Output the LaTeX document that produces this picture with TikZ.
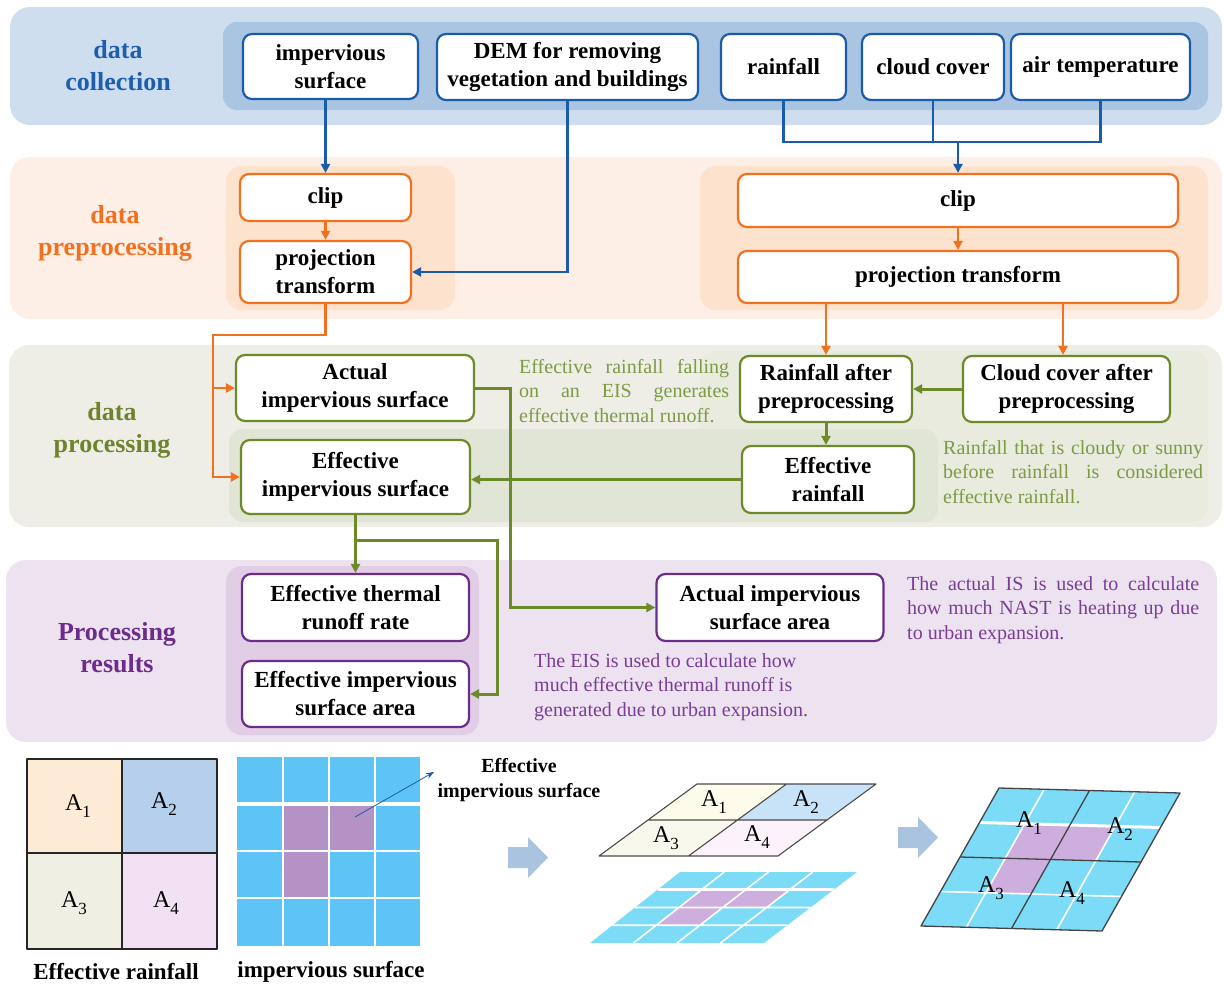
\documentclass[tikz,border=0pt]{standalone}
\usepackage{fontspec}
\setmainfont{Liberation Serif}
\usetikzlibrary{arrows.meta,calc}
\definecolor{cBlue}{HTML}{1A5CAB}
\definecolor{cBlueLab}{HTML}{1D5EAE}
\definecolor{cOrange}{HTML}{F2711F}
\definecolor{cGreen}{HTML}{6C8A2A}
\definecolor{cGreenLab}{HTML}{6F822E}
\definecolor{cGreenTxt}{HTML}{7D9A45}
\definecolor{cPurple}{HTML}{6B2C8B}
\definecolor{cPurpleTxt}{HTML}{7A3D95}
\definecolor{bandB}{HTML}{CFDEEE}
\definecolor{bandBi}{HTML}{AAC5E1}
\definecolor{bandO}{HTML}{FDEEE6}
\definecolor{bandOi}{HTML}{FDE3CE}
\definecolor{bandG}{HTML}{EEEEE7}
\definecolor{bandGr}{HTML}{E8EBDD}
\definecolor{bandGi}{HTML}{E1E5D6}
\definecolor{bandP}{HTML}{ECE2F0}
\definecolor{bandPi}{HTML}{E1CDE5}
\definecolor{qA1}{HTML}{FDEBD5}
\definecolor{qA2}{HTML}{B5CFEC}
\definecolor{qA3}{HTML}{EFF0E3}
\definecolor{qA4}{HTML}{F2E0F3}
\definecolor{pA1}{HTML}{FDFBEA}
\definecolor{pA2}{HTML}{C8E3F8}
\definecolor{pA3}{HTML}{F8F8EC}
\definecolor{pA4}{HTML}{FCF2FC}
\definecolor{cellB}{HTML}{5EC4F5}
\definecolor{cellP}{HTML}{B592C6}
\definecolor{cellBb}{HTML}{7CDBF7}
\definecolor{cellPb}{HTML}{CEAEDF}
\definecolor{bArrow}{HTML}{AAC4E0}
\definecolor{edgeGray}{HTML}{444444}
\newcommand\Asub[1]{A\raisebox{-0.32em}{\fontsize{17}{17}\selectfont #1}}
\begin{document}
\begin{tikzpicture}[x=1pt,y=-1pt,
  flowbox/.style={draw, line width=2.2pt, rounded corners=9pt, fill=white, align=center, inner sep=0pt, text=black, font=\fontsize{23}{28}\selectfont\bfseries},
  bbox/.style={flowbox, draw=cBlue},
  obox/.style={flowbox, draw=cOrange},
  gbox/.style={flowbox, draw=cGreen},
  pbox/.style={flowbox, draw=cPurple},
  lab/.style={align=center, inner sep=0pt, font=\fontsize{26}{32}\selectfont\bfseries},
  anno/.style={inner sep=0pt, anchor=north west, font=\fontsize{20}{24.5}\selectfont, align=justify},
  arr/.style={-{Triangle[length=9pt,width=9pt]}},
  bl/.style={draw=cBlue, line width=2.8pt},
  orl/.style={draw=cOrange, line width=2.3pt},
  grl/.style={draw=cGreen, line width=3pt},
  alab/.style={inner sep=0pt, font=\fontsize{24}{24}\selectfont},
  blab/.style={inner sep=0pt, align=center, font=\fontsize{23}{28}\selectfont\bfseries},
  wl/.style={draw=white, line width=1.8pt},
  kl/.style={draw=edgeGray, line width=1.3pt, line join=round}
]
\useasboundingbox (0,0) rectangle (1224,985);

% ---------------- bands
\fill[bandB, rounded corners=20pt] (10,7) rectangle (1222,125);
\fill[bandBi, rounded corners=14pt] (223,22) rectangle (1208,110);
\fill[bandO, rounded corners=20pt] (10,157) rectangle (1222,319);
\fill[bandOi, rounded corners=16pt] (226,166) rectangle (455,310);
\fill[bandOi, rounded corners=16pt] (700,166) rectangle (1208,310);
\fill[bandG, rounded corners=20pt] (9,345) rectangle (1222,527);
\fill[bandGr, rounded corners=16pt] (700,351) rectangle (1208,522);
\fill[bandGi, rounded corners=14pt] (229,429) rectangle (938,522);
\fill[bandP, rounded corners=20pt] (6,560) rectangle (1217,742);
\fill[bandPi, rounded corners=16pt] (226,566) rectangle (479,735);

% ---------------- labels
\node[lab, text=cBlueLab] (l1) at (118,66) {data\\collection};
\node[lab, text=cOrange] (l2) at (115,233) {data\\preprocessing};
\node[lab, text=cGreenLab] (l3) at (112,430) {data\\processing};
\node[lab, text=cPurple] (l4) at (117,648) {Processing\\results};

% ---------------- boxes
\node[bbox, minimum width=175pt, minimum height=65pt] (imp) at (330.5,66.5) {impervious\\surface};
\node[bbox, minimum width=261pt, minimum height=66pt] (dem) at (567.5,67) {DEM for removing\\vegetation and buildings};
\node[bbox, minimum width=125pt, minimum height=66pt] (rain) at (783.5,67) {rainfall};
\node[bbox, minimum width=142pt, minimum height=66pt] (cloud) at (933,67) {cloud cover};
\node[bbox, minimum width=179pt, minimum height=66pt] (air) at (1100.5,67) {air temperature};

\node[obox, minimum width=171pt, minimum height=47pt] (clipL) at (325.5,197.5) {clip};
\node[obox, minimum width=171pt, minimum height=62pt] (projL) at (325.5,272) {projection\\transform};
\node[obox, minimum width=440pt, minimum height=53pt] (clipR) at (958,200.5) {clip};
\node[obox, minimum width=440pt, minimum height=52pt] (projR) at (958,277) {projection transform};

\node[gbox, minimum width=238pt, minimum height=66pt] (actual) at (355,388) {Actual\\impervious surface};
\node[gbox, minimum width=229pt, minimum height=74pt] (effIS) at (355.5,477) {Effective\\impervious surface};
\node[gbox, minimum width=172pt, minimum height=66pt] (rainA) at (826,389) {Rainfall after\\preprocessing};
\node[gbox, minimum width=207pt, minimum height=66pt] (cloudA) at (1066.5,389) {Cloud cover after\\preprocessing};
\node[gbox, minimum width=172pt, minimum height=67pt] (effR) at (828,479.5) {Effective\\rainfall};

\node[pbox, minimum width=227pt, minimum height=67pt] (etr) at (355.5,607.5) {Effective thermal\\runoff rate};
\node[pbox, minimum width=227pt, minimum height=66pt] (eisa) at (355.5,694) {Effective impervious\\surface area};
\node[pbox, minimum width=227pt, minimum height=67pt] (aisa) at (770,607.5) {Actual impervious\\surface area};

% ---------------- connectors
\coordinate (j) at (958,142);
\draw[bl, arr] (clipL.north |- imp.south) -- (clipL.north);
\draw[bl, arr] (dem.south) |- (projL.east);
\draw[bl] (rain.south) -- (rain.south |- j) -- (air.south |- j) -- (air.south);
\draw[bl] (cloud.south) -- (cloud.south |- j);
\draw[bl, arr] (j) -- (clipR.north);

\coordinate (o1) at (213,335);
\draw[orl, arr] (clipL) -- (projL);
\draw[orl, arr] (clipR) -- (projR);
\draw[orl, arr] (projL.south) |- (o1) |- (effIS.west);
\draw[orl, arr] (o1 |- actual.west) -- (actual.west);
\draw[orl, arr] (projR.south -| rainA.north) -- (rainA.north);
\coordinate (o2) at (1063,303);
\draw[orl, arr] (o2) -- (o2 |- cloudA.north);

\coordinate (g1) at (510,388);
\coordinate (g2) at (497,540);
\draw[grl, arr] (cloudA.west) -- (rainA.east);
\draw[grl, arr] (rainA.south) -- (rainA.south |- effR.north);
\draw[grl, arr] (effR.west) -- (effIS.east |- effR.west);
\draw[grl, arr] (actual.east) -- (g1) |- (aisa.west);
\draw[grl, arr] (effIS.south) -- (etr.north);
\draw[grl, arr] (effIS.south |- g2) -- (g2) |- (eisa.east);

% ---------------- annotations
\node[anno, text=cGreenTxt, text width=210pt] (n1) at (519,359) {Effective rainfall falling\linebreak on an EIS generates\linebreak effective thermal runoff.};
\node[anno, text=cGreenTxt, text width=260pt] (n2) at (943,440) {Rainfall that is cloudy or sunny\linebreak before rainfall is considered\linebreak effective rainfall.};
\node[anno, text=cPurpleTxt, text width=292pt] (n3) at (907,576) {The actual IS is used to calculate\linebreak how much NAST is heating up due\linebreak to urban expansion.};
\node[anno, text=cPurpleTxt, align=left] (n4) at (534,653) {The EIS is used to calculate how\\much effective thermal runoff is\\generated due to urban expansion.};

% ---------------- bottom: effective rainfall grid
\fill[qA1] (27,759) rectangle (122,853);
\fill[qA2] (122,759) rectangle (217,853);
\fill[qA3] (27,853) rectangle (122,949);
\fill[qA4] (122,853) rectangle (217,949);
\draw[kl, draw=black!85] (27,759) rectangle (217,949) (122,759) -- (122,949) (27,853) -- (217,853);
\node[alab] (g1a) at (78,806) {\Asub{1}};
\node[alab] (g1b) at (164,804) {\Asub{2}};
\node[alab] (g1c) at (74,903) {\Asub{3}};
\node[alab] (g1d) at (166,903) {\Asub{4}};
\node[blab] (t1) at (116,972) {Effective rainfall};

% ---------------- impervious surface grid
\fill[cellB] (237,757) rectangle (420,946);
\fill[cellP] (283,804) rectangle (375,851);
\fill[cellP] (283,851) rectangle (329,898);
\draw[wl] (283,757) -- (283,946) (329,757) -- (329,946) (375,757) -- (375,946)
          (237,851) -- (420,851) (237,898) -- (420,898);
\draw[wl, line width=3.5pt] (237,804) -- (420,804);
\node[blab] (t2) at (331,972) {impervious surface};
\node[inner sep=0pt, align=center, font=\fontsize{20}{25}\selectfont\bfseries] (eist) at (519,780) {Effective\\impervious surface};
\coordinate (ea1) at (355,817);
\coordinate (ea2) at (434,772);
\draw[cBlue, line width=0.8pt, -{Stealth[length=8pt,width=6pt]}] (ea1) -- (ea2);

% ---------------- block arrows
\fill[bArrow] (508,847) -- (528,847) -- (528,837) -- (548,857.5) -- (528,878) -- (528,868) -- (508,868) -- cycle;
\fill[bArrow] (898,827) -- (918,827) -- (918,817) -- (938,837.5) -- (918,858) -- (918,848) -- (898,848) -- cycle;

% ---------------- parallelogram 1 (rainfall zones)
\coordinate (aBL) at (599,856); \coordinate (aBR) at (778,856);
\coordinate (aTL) at (697,784); \coordinate (aTR) at (876,784);
\coordinate (aBM) at ($(aBL)!0.5!(aBR)$); \coordinate (aTM) at ($(aTL)!0.5!(aTR)$);
\coordinate (aLM) at ($(aBL)!0.5!(aTL)$); \coordinate (aRM) at ($(aBR)!0.5!(aTR)$);
\coordinate (aC) at ($(aBM)!0.5!(aTM)$);
\fill[pA3] (aBL) -- (aBM) -- (aC) -- (aLM) -- cycle;
\fill[pA4] (aBM) -- (aBR) -- (aRM) -- (aC) -- cycle;
\fill[pA1] (aLM) -- (aC) -- (aTM) -- (aTL) -- cycle;
\fill[pA2] (aC) -- (aRM) -- (aTR) -- (aTM) -- cycle;
\draw[kl, line width=1.1pt, draw=black!70] (aBL) -- (aBR) -- (aTR) -- (aTL) -- cycle (aBM) -- (aTM) (aLM) -- (aRM);
\node[alab] (p1a) at (714,802) {\Asub{1}};
\node[alab] (p1b) at (806,802) {\Asub{2}};
\node[alab] (p1c) at (666,838) {\Asub{3}};
\node[alab] (p1d) at (757,837) {\Asub{4}};

% ---------------- parallelogram 2 (impervious grid, tilted)
\coordinate (bBL) at (590,943); \coordinate (bBR) at (764,943);
\coordinate (bTL) at (680,872); \coordinate (bTR) at (857,872);
\foreach \k in {0,...,4} {
  \coordinate (bL\k) at ($(bBL)!\k/4!(bTL)$);
  \coordinate (bR\k) at ($(bBR)!\k/4!(bTR)$);
  \coordinate (bB\k) at ($(bBL)!\k/4!(bBR)$);
  \coordinate (bT\k) at ($(bTL)!\k/4!(bTR)$);
}
\fill[cellBb] (bBL) -- (bBR) -- (bTR) -- (bTL) -- cycle;
\fill[cellPb] ($(bL2)!0.25!(bR2)$) -- ($(bL2)!0.75!(bR2)$) -- ($(bL3)!0.75!(bR3)$) -- ($(bL3)!0.25!(bR3)$) -- cycle;
\fill[cellPb] ($(bL1)!0.25!(bR1)$) -- ($(bL1)!0.5!(bR1)$) -- ($(bL2)!0.5!(bR2)$) -- ($(bL2)!0.25!(bR2)$) -- cycle;
\draw[wl, line width=1.6pt] (bL1) -- (bR1) (bL2) -- (bR2) (bB1) -- (bT1) (bB2) -- (bT2) (bB3) -- (bT3);
\draw[wl, line width=2.6pt] (bL3) -- (bR3);

% ---------------- parallelogram 3 (overlay)
\coordinate (cBL) at (921,926); \coordinate (cBR) at (1102,931);
\coordinate (cTL) at (999,788); \coordinate (cTR) at (1180,793);
\foreach \k in {0,...,4} {
  \coordinate (cL\k) at ($(cBL)!\k/4!(cTL)$);
  \coordinate (cR\k) at ($(cBR)!\k/4!(cTR)$);
  \coordinate (cB\k) at ($(cBL)!\k/4!(cBR)$);
  \coordinate (cT\k) at ($(cTL)!\k/4!(cTR)$);
}
\fill[cellBb] (cBL) -- (cBR) -- (cTR) -- (cTL) -- cycle;
\fill[cellPb] ($(cL2)!0.25!(cR2)$) -- ($(cL2)!0.75!(cR2)$) -- ($(cL3)!0.75!(cR3)$) -- ($(cL3)!0.25!(cR3)$) -- cycle;
\fill[cellPb] ($(cL1)!0.25!(cR1)$) -- ($(cL1)!0.5!(cR1)$) -- ($(cL2)!0.5!(cR2)$) -- ($(cL2)!0.25!(cR2)$) -- cycle;
\draw[wl, line width=1.6pt] (cL1) -- (cR1) (cB1) -- (cT1) (cB3) -- (cT3);
\draw[wl, line width=3pt] (cL3) -- (cR3);
\draw[kl] (cBL) -- (cBR) -- (cTR) -- (cTL) -- cycle (cB2) -- (cT2) (cL2) -- (cR2);
\node[alab] (p3a) at (1029,823) {\Asub{1}};
\node[alab] (p3b) at (1120,829) {\Asub{2}};
\node[alab] (p3c) at (991,888) {\Asub{3}};
\node[alab] (p3d) at (1072,893) {\Asub{4}};
\end{tikzpicture}
\end{document}
